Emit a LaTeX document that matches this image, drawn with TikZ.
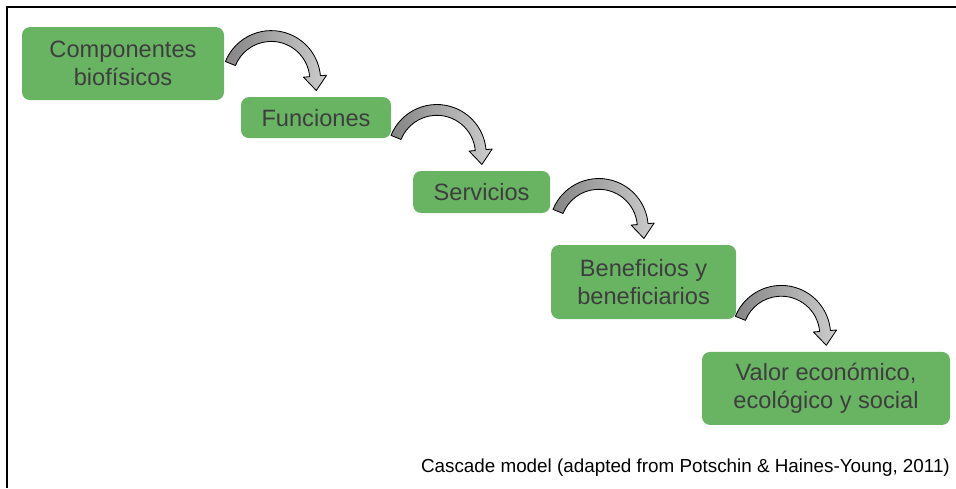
\documentclass[tikz,border=0pt]{standalone}
\usepackage{fontspec}
\setmainfont{Liberation Sans}
\usetikzlibrary{calc}
\definecolor{cajaverde}{RGB}{104,180,99}
\definecolor{textogris}{RGB}{62,62,62}
% curved block arrow ending just above node #1
\newcommand{\cascada}[1]{%
  \coordinate (c) at ($(#1.north)+(-1.12,0.42)$);
  \draw[flecha] ($(c)+(158:1.235)$) arc[start angle=158, end angle=5, radius=1.235]
    -- ($(c)+(5:1.39)$) -- ($(c)+(5:1.1)+(-85:0.36)$) -- ($(c)+(5:0.81)$)
    -- ($(c)+(5:0.965)$) arc[start angle=5, end angle=158, radius=0.965] -- cycle;}
\begin{document}
\begin{tikzpicture}[
  caja/.style={fill=cajaverde, rounded corners=0.2cm, inner sep=0pt, align=center,
    text=textogris, font=\fontsize{16.8}{20}\selectfont},
  flecha/.style={draw=black, line width=0.6pt, line join=round,
    left color=black!48, right color=black!20}]
\useasboundingbox (0,0) rectangle (23.9,12.2);
\draw[line width=2pt] (23.9,12.025) -- (0.175,12.025) -- (0.175,0);
  \node (comp) at (3.075,10.61) [caja, minimum width=5.05cm, minimum height=1.825cm] {Componentes\\biofísicos};
\node (func) at (7.9,9.26) [caja, minimum width=3.75cm, minimum height=1.025cm] {Funciones};
    \node (serv) at (12.04,7.4) [caja, minimum width=3.425cm, minimum height=1.05cm] {Servicios};
    \node (bene) at (16.09,5.15) [caja, minimum width=4.625cm, minimum height=1.85cm] {Beneficios y\\beneficiarios};
    \node (valor) at (20.65,2.49) [caja, minimum width=6.2cm, minimum height=1.825cm] {Valor económico,\\ecológico y social};
    \node (leyenda) at (23.87,0.4) [anchor=base east, font=\fontsize{13.4}{16}\selectfont] {Cascade model (adapted from Potschin \& Haines-Young, 2011)};
    \cascada{func} \cascada{serv} \cascada{bene} \cascada{valor}
%\draw[->] (comp.east) -- (func.north); \draw[->] (func.east) -- (serv.north);
\end{tikzpicture}
\end{document}
